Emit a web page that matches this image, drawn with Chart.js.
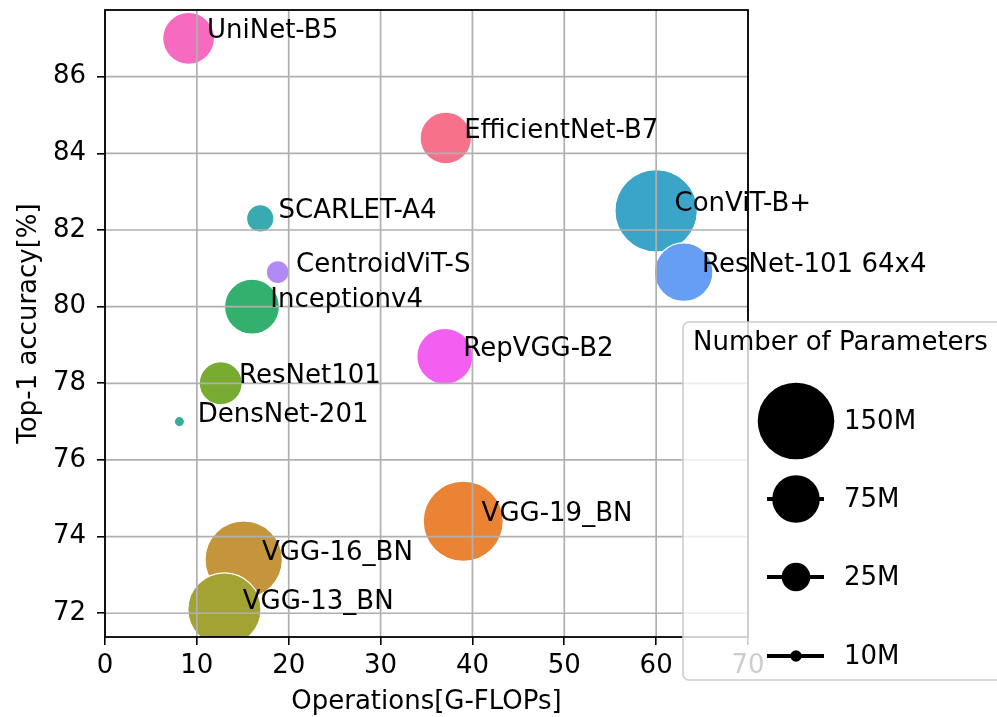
<!DOCTYPE html>
<html>
<head>
<meta charset="utf-8">
<script src="https://cdn.jsdelivr.net/npm/chart.js@4.4.1/dist/chart.umd.min.js"></script>
<style>
  html, body { margin: 0; padding: 0; background: #fff; }
  #wrap { width: 997px; height: 717px; }
</style>
</head>
<body>
<div id="wrap"><canvas id="grafico" width="997" height="717"></canvas></div>
<script>
// ==========================
// DATA
// ==========================
const models = ["EfficientNet-B7", "VGG-19_BN", "VGG-16_BN", "VGG-13_BN", "ResNet101",
                "Inceptionv4", "DensNet-201", "SCARLET-A4", "ConViT-B+", "ResNet-101 64x4",
                "CentroidViT-S", "RepVGG-B2", "UniNet-B5"];
const gflops   = [37.1, 39.0, 15.1, 13.0, 12.6, 16.0, 8.1, 16.9, 60.0, 63.0, 18.8, 37.0, 9.1];
const accuracy = [84.4, 74.4, 73.4, 72.1, 78.0, 80.0, 77.0, 82.3, 82.5, 80.9, 80.9, 78.7, 87.0];
const paramsM  = [85, 159, 152, 141, 63, 94, 9, 24, 165, 103, 20, 97, 86];

const xTicks = [0, 10, 20, 30, 40, 50, 60, 70];
const yTicks = [72, 74, 76, 78, 80, 82, 84, 86];

const legendParams = [150, 75, 25, 10];
const legendLabels = ["150M", "75M", "25M", "10M"];

// ==========================
// STYLE
// ==========================
const colors = ["#f7718a", "#ea8434", "#c4953a", "#a2a332", "#77ab31",
                "#34b06e", "#36ad9a", "#38abb0", "#3aa5c9", "#659ef3",
                "#b389f4", "#f35ff0", "#f66bbf"];
const FONT = '"DejaVu Sans", sans-serif';

// size scale: params (M) -> radius (px), taken from the legend keys
const sizeSteps = [10, 25, 75, 150];
const sizeRadii = [5.7, 14.3, 23.8, 38.3];
function radiusFor(p) {
    let i = 0;
    if (p > sizeSteps[2]) i = 2;
    else if (p > sizeSteps[1]) i = 1;
    const t = (p - sizeSteps[i]) / (sizeSteps[i + 1] - sizeSteps[i]);
    return sizeRadii[i] + t * (sizeRadii[i + 1] - sizeRadii[i]);
}

const points = models.map((m, i) => ({ x: gflops[i], y: accuracy[i], r: radiusFor(paramsM[i]) }));

// grid on top of the bubbles, spines, point labels
const overlay = {
    id: "overlay",
    afterDatasetsDraw(chart) {
        const ctx = chart.ctx;
        const a = chart.chartArea;
        const sx = chart.scales.x, sy = chart.scales.y;
        ctx.save();
        ctx.strokeStyle = "#b0b0b0";
        ctx.lineWidth = 1.7;
        ctx.beginPath();
        xTicks.forEach(v => {
            const px = sx.getPixelForValue(v);
            ctx.moveTo(px, a.top); ctx.lineTo(px, a.bottom);
        });
        yTicks.forEach(v => {
            const py = sy.getPixelForValue(v);
            ctx.moveTo(a.left, py); ctx.lineTo(a.right, py);
        });
        ctx.stroke();

        ctx.strokeStyle = "#000";
        ctx.lineWidth = 1.8;
        ctx.strokeRect(a.left, a.top, a.right - a.left, a.bottom - a.top);

        ctx.fillStyle = "#000";
        ctx.font = "26px " + FONT;
        ctx.textAlign = "left";
        ctx.textBaseline = "alphabetic";
        models.forEach((m, i) => {
            ctx.fillText(m, sx.getPixelForValue(gflops[i] + 2), sy.getPixelForValue(accuracy[i]));
        });
        ctx.restore();
    },
    afterDraw(chart) {
        const ctx = chart.ctx;
        const a = chart.chartArea;
        ctx.save();
        ctx.fillStyle = "#000";
        ctx.font = "26px " + FONT;
        ctx.textAlign = "center";
        ctx.textBaseline = "middle";
        ctx.fillText("Operations[G-FLOPs]", (a.left + a.right) / 2, 702);
        ctx.translate(29, (a.top + a.bottom) / 2);
        ctx.rotate(-Math.PI / 2);
        ctx.fillText("Top-1 accuracy[%]", 0, 0);
        ctx.restore();

        // LEGEND BOX
        ctx.save();
        const bx = 683, by = 322, bw = 340, bh = 358, rr = 6;
        ctx.beginPath();
        ctx.moveTo(bx + rr, by);
        ctx.lineTo(bx + bw - rr, by);
        ctx.arcTo(bx + bw, by, bx + bw, by + rr, rr);
        ctx.lineTo(bx + bw, by + bh - rr);
        ctx.arcTo(bx + bw, by + bh, bx + bw - rr, by + bh, rr);
        ctx.lineTo(bx + rr, by + bh);
        ctx.arcTo(bx, by + bh, bx, by + bh - rr, rr);
        ctx.lineTo(bx, by + rr);
        ctx.arcTo(bx, by, bx + rr, by, rr);
        ctx.closePath();
        ctx.fillStyle = "rgba(255,255,255,0.8)";
        ctx.fill();
        ctx.strokeStyle = "#cccccc";
        ctx.lineWidth = 1.6;
        ctx.stroke();

        ctx.fillStyle = "#000";
        ctx.font = "26px " + FONT;
        ctx.textAlign = "left";
        ctx.textBaseline = "middle";
        ctx.fillText("Number of Parameters", 693, 343);

        const rowsY = [421, 499, 577, 656];
        legendParams.forEach((p, i) => {
            const cy = rowsY[i];
            ctx.strokeStyle = "#000";
            ctx.lineWidth = 4;
            ctx.beginPath();
            ctx.moveTo(767, cy); ctx.lineTo(824, cy);
            ctx.stroke();
            ctx.beginPath();
            ctx.arc(796, cy, radiusFor(p), 0, Math.PI * 2);
            ctx.fill();
            ctx.fillText(legendLabels[i], 844, cy + 1);
        });
        ctx.restore();
    }
};

const tickFont = { family: FONT, size: 26 };

new Chart(document.getElementById("grafico"), {
    type: "bubble",
    data: {
        datasets: [{
            data: points,
            backgroundColor: colors,
            borderColor: "#ffffff",
            borderWidth: 1.2,
            clip: 0
        }]
    },
    options: {
        responsive: false,
        animation: false,
        events: [],
        layout: { autoPadding: false, padding: { left: 0, top: 10, right: 249, bottom: 0 } },
        plugins: {
            legend: { display: false },
            tooltip: { enabled: false }
        },
        scales: {
            x: {
                type: "linear",
                min: 0,
                max: 70,
                afterBuildTicks: s => { s.ticks = xTicks.map(v => ({ value: v })); },
                afterFit: s => { s.height = 80; s.paddingLeft = 0; s.paddingRight = 0; },
                ticks: { color: "#000", font: tickFont, padding: 6, maxRotation: 0 },
                grid: { drawOnChartArea: false, drawTicks: true, tickLength: 8, color: "#000", lineWidth: 1.6 },
                border: { display: false }
            },
            y: {
                type: "linear",
                min: 71.38,
                max: 87.74,
                afterBuildTicks: s => { s.ticks = yTicks.map(v => ({ value: v })); },
                afterFit: s => { s.width = 105; s.paddingTop = 0; s.paddingBottom = 0; },
                ticks: { color: "#000", font: tickFont, padding: 11 },
                grid: { drawOnChartArea: false, drawTicks: true, tickLength: 8, color: "#000", lineWidth: 1.6 },
                border: { display: false }
            }
        }
    },
    plugins: [overlay]
});
</script>
</body>
</html>
